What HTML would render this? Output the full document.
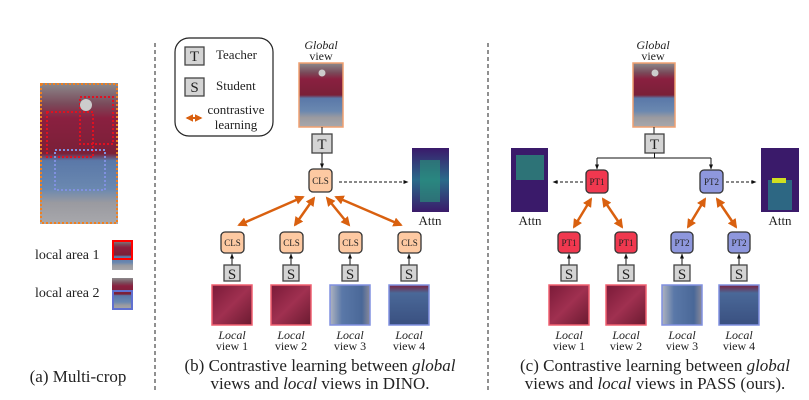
<!DOCTYPE html>
<html><head><meta charset="utf-8"><style>
body{margin:0;background:#fff}
svg{display:block}
text{font-family:"Liberation Serif",serif;fill:#222}
</style></head><body>
<svg width="809" height="400" viewBox="0 0 809 400" xmlns="http://www.w3.org/2000/svg">
<defs>
<linearGradient id="per" x1="0" y1="0" x2="0" y2="1">
<stop offset="0" stop-color="#8c8a8c"/><stop offset="0.15" stop-color="#7a4a5a"/><stop offset="0.25" stop-color="#8a2040"/><stop offset="0.5" stop-color="#7a2038"/><stop offset="0.55" stop-color="#5a78a8"/><stop offset="0.75" stop-color="#6a88b0"/><stop offset="0.85" stop-color="#9a9aa0"/><stop offset="1" stop-color="#a8a8ac"/>
</linearGradient>
<linearGradient id="red" x1="0" y1="0" x2="1" y2="1"><stop offset="0" stop-color="#7a1a38"/><stop offset="0.5" stop-color="#a03050"/><stop offset="1" stop-color="#6a1a30"/></linearGradient>
<linearGradient id="blu" x1="0" y1="0" x2="1" y2="0"><stop offset="0" stop-color="#b0b4c0"/><stop offset="0.3" stop-color="#5a78a8"/><stop offset="0.8" stop-color="#4a6898"/><stop offset="1" stop-color="#8a8a9a"/></linearGradient>
<linearGradient id="blu2" x1="0" y1="0" x2="0" y2="1"><stop offset="0" stop-color="#7a2040"/><stop offset="0.2" stop-color="#4a6898"/><stop offset="1" stop-color="#3a5080"/></linearGradient>
<linearGradient id="att" x1="0" y1="0" x2="0" y2="1"><stop offset="0" stop-color="#3a1a6a"/><stop offset="0.5" stop-color="#2a6a8a"/><stop offset="1" stop-color="#3a1a6a"/></linearGradient>
<marker id="ah" viewBox="0 0 10 10" refX="9" refY="5" markerWidth="5" markerHeight="5" orient="auto"><path d="M0,1 L10,5 L0,9z" fill="#111"/></marker>
<marker id="oa" viewBox="0 0 10 10" refX="8" refY="5" markerWidth="3.8" markerHeight="3.8" orient="auto-start-reverse"><path d="M0,0 L10,5 L0,10z" fill="#d9600f"/></marker>
</defs>

<line x1="155" y1="43" x2="155" y2="392" stroke="#222" stroke-dasharray="4,3"/>
<line x1="488" y1="43" x2="488" y2="392" stroke="#222" stroke-dasharray="4,3"/>

<!-- panel a -->
<rect x="40" y="83" width="78" height="141" fill="url(#per)"/>
<rect x="41" y="84" width="76" height="139" fill="none" stroke="#f08020" stroke-width="2" stroke-dasharray="2,2"/>
<rect x="47" y="112" width="46" height="45" fill="none" stroke="#e01020" stroke-width="2" stroke-dasharray="2,2"/>
<rect x="80" y="97" width="33" height="47" fill="none" stroke="#e01020" stroke-width="2" stroke-dasharray="2,2"/>
<rect x="55" y="150" width="50" height="40" fill="none" stroke="#8090e0" stroke-width="2" stroke-dasharray="2,2"/>
<circle cx="86" cy="105" r="6" fill="#ccc"/>
<text x="35" y="259" font-size="14">local area 1</text>
<rect x="112" y="240" width="21" height="30" fill="url(#per)"/>
<rect x="113" y="241" width="19" height="18" fill="none" stroke="#f00" stroke-width="2"/>
<text x="35" y="297" font-size="14">local area 2</text>
<rect x="112" y="278" width="21" height="32" fill="url(#per)"/>
<rect x="113" y="291" width="19" height="18" fill="none" stroke="#6070d0" stroke-width="2"/>
<text x="78" y="382" font-size="17" text-anchor="middle">(a) Multi-crop</text>

<!-- legend -->
<rect x="175" y="38" width="98" height="98" rx="14" fill="none" stroke="#222" stroke-width="1.2"/>
<rect x="185" y="47" width="19" height="18" fill="#d4d4d4" stroke="#444" stroke-width="1.3"/>
<text x="194.5" y="61" font-size="15" text-anchor="middle">T</text>
<text x="216" y="59" font-size="13">Teacher</text>
<rect x="185" y="78" width="19" height="18" fill="#d4d4d4" stroke="#444" stroke-width="1.3"/>
<text x="194.5" y="92" font-size="15" text-anchor="middle">S</text>
<text x="216" y="90" font-size="13">Student</text>
<line x1="187" y1="118" x2="201" y2="118" stroke="#d9600f" stroke-width="2" marker-start="url(#oa)" marker-end="url(#oa)"/>
<text x="236" y="114" font-size="13" text-anchor="middle">contrastive</text>
<text x="236" y="129" font-size="13" text-anchor="middle">learning</text>

<!-- panel b -->
<text x="321" y="49" font-size="12" font-style="italic" text-anchor="middle">Global</text>
<text x="321" y="60" font-size="12" text-anchor="middle">view</text>
<rect x="299" y="63" width="44" height="64" fill="url(#per)" stroke="#f0a070" stroke-width="1.5"/>
<circle cx="322" cy="73" r="3.5" fill="#ccc"/>
<line x1="322" y1="127" x2="322" y2="134" stroke="#111"/>
<rect x="312" y="134" width="20" height="19" fill="#d4d4d4" stroke="#444" stroke-width="1.3"/>
<text x="322" y="149" font-size="15" text-anchor="middle">T</text>
<line x1="322" y1="153" x2="322" y2="168" stroke="#111" marker-end="url(#ah)"/>
<rect x="309" y="169" width="23" height="23" rx="4" fill="#fdc9a2" stroke="#333" stroke-width="1.3"/>
<text x="320.5" y="184" font-size="9" text-anchor="middle">CLS</text>
<line x1="339" y1="182" x2="408" y2="182" stroke="#111" stroke-dasharray="3,2" marker-end="url(#ah)"/>
<rect x="412" y="148" width="37" height="64" fill="url(#att)"/>
<rect x="420" y="160" width="20" height="42" fill="#2a9a7a" opacity="0.6"/>
<text x="430" y="225" font-size="13" text-anchor="middle">Attn</text>
<g stroke="#d9600f" stroke-width="2.5" marker-start="url(#oa)" marker-end="url(#oa)">
<line x1="303" y1="197" x2="239" y2="225"/>
<line x1="314" y1="198" x2="295" y2="225"/>
<line x1="327" y1="198" x2="349" y2="225"/>
<line x1="336" y1="197" x2="401" y2="225"/>
</g>
<g font-size="9">
<rect x="221" y="232" width="23" height="21" rx="4" fill="#fdc9a2" stroke="#333" stroke-width="1.3"/><text x="232.5" y="246" text-anchor="middle">CLS</text>
<rect x="280" y="232" width="23" height="21" rx="4" fill="#fdc9a2" stroke="#333" stroke-width="1.3"/><text x="291.5" y="246" text-anchor="middle">CLS</text>
<rect x="339" y="232" width="23" height="21" rx="4" fill="#fdc9a2" stroke="#333" stroke-width="1.3"/><text x="350.5" y="246" text-anchor="middle">CLS</text>
<rect x="398" y="232" width="23" height="21" rx="4" fill="#fdc9a2" stroke="#333" stroke-width="1.3"/><text x="409.5" y="246" text-anchor="middle">CLS</text>
</g>
<g stroke="#111">
<line x1="232" y1="265" x2="232" y2="254" marker-end="url(#ah)"/><line x1="291" y1="265" x2="291" y2="254" marker-end="url(#ah)"/>
<line x1="350" y1="265" x2="350" y2="254" marker-end="url(#ah)"/><line x1="409" y1="265" x2="409" y2="254" marker-end="url(#ah)"/>
</g>
<g font-size="15" text-anchor="middle">
<rect x="224" y="265" width="16" height="16" fill="#d4d4d4" stroke="#444" stroke-width="1.3"/><text x="232" y="279">S</text>
<rect x="283" y="265" width="16" height="16" fill="#d4d4d4" stroke="#444" stroke-width="1.3"/><text x="291" y="279">S</text>
<rect x="342" y="265" width="16" height="16" fill="#d4d4d4" stroke="#444" stroke-width="1.3"/><text x="350" y="279">S</text>
<rect x="401" y="265" width="16" height="16" fill="#d4d4d4" stroke="#444" stroke-width="1.3"/><text x="409" y="279">S</text>
</g>
<rect x="212" y="285" width="40" height="40" fill="url(#red)" stroke="#f06070" stroke-width="1.5"/>
<rect x="271" y="285" width="40" height="40" fill="url(#red)" stroke="#f06070" stroke-width="1.5"/>
<rect x="330" y="285" width="40" height="40" fill="url(#blu)" stroke="#8090e0" stroke-width="1.5"/>
<rect x="389" y="285" width="40" height="40" fill="url(#blu2)" stroke="#8090e0" stroke-width="1.5"/>
<g font-size="12" text-anchor="middle">
<text x="232" y="339" font-style="italic">Local</text><text x="232" y="350">view 1</text>
<text x="291" y="339" font-style="italic">Local</text><text x="291" y="350">view 2</text>
<text x="350" y="339" font-style="italic">Local</text><text x="350" y="350">view 3</text>
<text x="409" y="339" font-style="italic">Local</text><text x="409" y="350">view 4</text>
</g>
<text x="320" y="371" font-size="17" text-anchor="middle">(b) Contrastive learning between <tspan font-style="italic">global</tspan></text>
<text x="320" y="389" font-size="17" text-anchor="middle">views and <tspan font-style="italic">local</tspan> views in DINO.</text>

<!-- panel c -->
<text x="653" y="49" font-size="12" font-style="italic" text-anchor="middle">Global</text>
<text x="653" y="60" font-size="12" text-anchor="middle">view</text>
<rect x="633" y="63" width="42" height="64" fill="url(#per)" stroke="#f0a070" stroke-width="1.5"/>
<circle cx="655" cy="73" r="3.5" fill="#ccc"/>
<line x1="654" y1="127" x2="654" y2="134" stroke="#111"/>
<rect x="645" y="134" width="19" height="19" fill="#d4d4d4" stroke="#444" stroke-width="1.3"/>
<text x="654.5" y="149" font-size="15" text-anchor="middle">T</text>
<path d="M654.5,153 V158 M597,158 H711" stroke="#111" fill="none"/>
<line x1="597" y1="158" x2="597" y2="169" stroke="#111" marker-end="url(#ah)"/>
<line x1="711" y1="158" x2="711" y2="169" stroke="#111" marker-end="url(#ah)"/>
<rect x="586" y="170" width="22" height="23" rx="4" fill="#f0384f" stroke="#333" stroke-width="1.3"/>
<text x="597" y="185" font-size="9" text-anchor="middle">PT1</text>
<rect x="700" y="170" width="23" height="23" rx="4" fill="#8e97dd" stroke="#333" stroke-width="1.3"/>
<text x="711.5" y="185" font-size="9" text-anchor="middle">PT2</text>
<line x1="583" y1="182" x2="553" y2="182" stroke="#111" stroke-dasharray="3,2" marker-end="url(#ah)"/>
<line x1="726" y1="182" x2="756" y2="182" stroke="#111" stroke-dasharray="3,2" marker-end="url(#ah)"/>
<rect x="511" y="148" width="37" height="64" fill="#3a1a6a"/>
<rect x="516" y="155" width="28" height="25" fill="#2a8a7a" opacity="0.8"/>
<rect x="761" y="148" width="38" height="64" fill="#3a1a6a"/>
<rect x="768" y="180" width="24" height="30" fill="#2a7a8a" opacity="0.8"/>
<rect x="772" y="178" width="14" height="5" fill="#d0e020"/>
<text x="530" y="225" font-size="13" text-anchor="middle">Attn</text>
<text x="780" y="225" font-size="13" text-anchor="middle">Attn</text>
<g stroke="#d9600f" stroke-width="2.5" marker-start="url(#oa)" marker-end="url(#oa)">
<line x1="591" y1="199" x2="574" y2="227"/>
<line x1="603" y1="199" x2="622" y2="227"/>
<line x1="705" y1="199" x2="688" y2="227"/>
<line x1="717" y1="199" x2="736" y2="227"/>
</g>
<g font-size="9" text-anchor="middle">
<rect x="558" y="232" width="22" height="21" rx="4" fill="#f0384f" stroke="#333" stroke-width="1.3"/><text x="569" y="246">PT1</text>
<rect x="615" y="232" width="22" height="21" rx="4" fill="#f0384f" stroke="#333" stroke-width="1.3"/><text x="626" y="246">PT1</text>
<rect x="671" y="232" width="22" height="21" rx="4" fill="#8e97dd" stroke="#333" stroke-width="1.3"/><text x="682" y="246">PT2</text>
<rect x="728" y="232" width="22" height="21" rx="4" fill="#8e97dd" stroke="#333" stroke-width="1.3"/><text x="739" y="246">PT2</text>
</g>
<g stroke="#111">
<line x1="569" y1="265" x2="569" y2="254" marker-end="url(#ah)"/><line x1="626" y1="265" x2="626" y2="254" marker-end="url(#ah)"/>
<line x1="682" y1="265" x2="682" y2="254" marker-end="url(#ah)"/><line x1="739" y1="265" x2="739" y2="254" marker-end="url(#ah)"/>
</g>
<g font-size="15" text-anchor="middle">
<rect x="561" y="265" width="16" height="16" fill="#d4d4d4" stroke="#444" stroke-width="1.3"/><text x="569" y="279">S</text>
<rect x="618" y="265" width="16" height="16" fill="#d4d4d4" stroke="#444" stroke-width="1.3"/><text x="626" y="279">S</text>
<rect x="674" y="265" width="16" height="16" fill="#d4d4d4" stroke="#444" stroke-width="1.3"/><text x="682" y="279">S</text>
<rect x="731" y="265" width="16" height="16" fill="#d4d4d4" stroke="#444" stroke-width="1.3"/><text x="739" y="279">S</text>
</g>
<rect x="549" y="285" width="40" height="40" fill="url(#red)" stroke="#f06070" stroke-width="1.5"/>
<rect x="606" y="285" width="40" height="40" fill="url(#red)" stroke="#f06070" stroke-width="1.5"/>
<rect x="662" y="285" width="40" height="40" fill="url(#blu)" stroke="#8090e0" stroke-width="1.5"/>
<rect x="719" y="285" width="40" height="40" fill="url(#blu2)" stroke="#8090e0" stroke-width="1.5"/>
<g font-size="12" text-anchor="middle">
<text x="569" y="339" font-style="italic">Local</text><text x="569" y="350">view 1</text>
<text x="626" y="339" font-style="italic">Local</text><text x="626" y="350">view 2</text>
<text x="682" y="339" font-style="italic">Local</text><text x="682" y="350">view 3</text>
<text x="739" y="339" font-style="italic">Local</text><text x="739" y="350">view 4</text>
</g>
<text x="655" y="371" font-size="17" text-anchor="middle">(c) Contrastive learning between <tspan font-style="italic">global</tspan></text>
<text x="655" y="389" font-size="17" text-anchor="middle">views and <tspan font-style="italic">local</tspan> views in PASS (ours).</text>
</svg>
</body></html>
